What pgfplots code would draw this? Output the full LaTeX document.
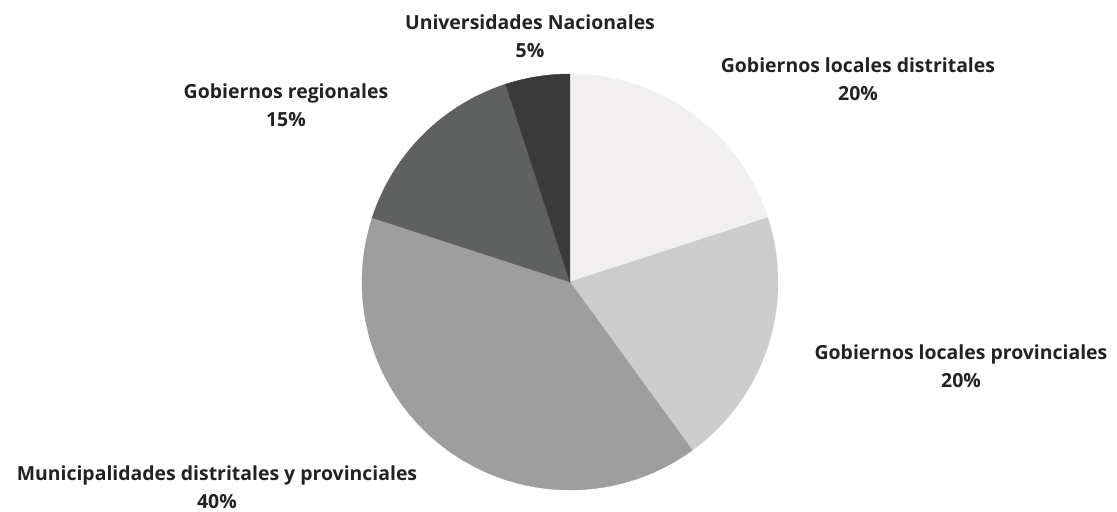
\documentclass[border=0pt]{standalone}
\usepackage{pgfplots}
\pgfplotsset{compat=1.18}
\usepgfplotslibrary{polar}
\usepackage{fontspec}
\setmainfont{Open Sans}
\definecolor{sA}{HTML}{F1EFEF}
\definecolor{sB}{HTML}{CDCDCD}
\definecolor{sC}{HTML}{9E9E9E}
\definecolor{sD}{HTML}{5F6161}
\definecolor{sE}{HTML}{3A3A3A}
\definecolor{txt}{HTML}{222222}
\begin{document}
\begin{tikzpicture}[x=1bp,y=1bp]
\path[use as bounding box] (-570,-230) rectangle (547,282);
\begin{polaraxis}[
  at={(0,0)}, anchor=origin,
  width=416bp, scale only axis,
  xmin=0, xmax=360, ymin=0, ymax=1,
  hide axis, clip=false,
  samples=60,
]
% percentages clockwise from 12 o'clock: 20, 20, 40, 15, 5
\addplot[fill=sA, draw=sA, domain={90-3.6*20}:{90}] {1} -- (axis cs:0,0) -- cycle;
\addplot[fill=sB, draw=sB, domain={90-3.6*40}:{90-3.6*20}] {1} -- (axis cs:0,0) -- cycle;
\addplot[fill=sC, draw=sC, domain={90-3.6*80}:{90-3.6*40}] {1} -- (axis cs:0,0) -- cycle;
\addplot[fill=sD, draw=sD, domain={90-3.6*95}:{90-3.6*80}] {1} -- (axis cs:0,0) -- cycle;
\addplot[fill=sE, draw=sE, domain={90-3.6*100}:{90-3.6*95}] {1} -- (axis cs:0,0) -- cycle;
\end{polaraxis}
\begin{scope}[every node/.style={align=center, text=txt, font=\bfseries\fontsize{19.5}{28}\selectfont}]
\node at (-40,246) {Universidades Nacionales\\5\%};
\node at (288,203) {Gobiernos locales distritales\\20\%};
\node at (-284,177) {Gobiernos regionales\\15\%};
\node at (391,-84) {Gobiernos locales provinciales\\20\%};
\node at (-353,-205) {Municipalidades distritales y provinciales\\40\%};
\end{scope}
\end{tikzpicture}
\end{document}
